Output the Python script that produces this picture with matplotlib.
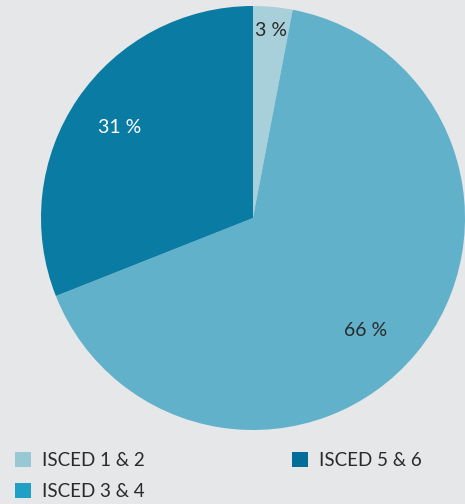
import numpy as np
from matplotlib import pyplot as plt
from matplotlib.patches import Patch

labels = ['ISCED 1 & 2', 'ISCED 3 & 4', 'ISCED 5 & 6']
shares = [3, 66, 31]
slice_colors = ['#a7d0da', '#62b1cb', '#0a7ba2']
legend_colors = ['#97c8d3', '#1fa0c4', '#006e98']
label_dist = [0.89, 0.75, 0.76]
label_shift = [0, -5.5, 0]  # degrees, nudges the 66 % label

BG = '#e6e7e9'
FONT = ['Lato', 'DejaVu Sans']


def main():
    fig = plt.figure(figsize=(4.65, 5.04), dpi=100, facecolor=BG)
    W, H = 465, 504
    cx, cy, r = 253, 218, 212
    ax = fig.add_axes([(cx - r) / W, (H - cy - r) / H, 2 * r / W, 2 * r / H])
    ax.set_facecolor(BG)

    wedges, _ = ax.pie(shares, colors=slice_colors, startangle=90, counterclock=False,
                       radius=1, wedgeprops=dict(linewidth=0))
    ax.set_xlim(-1, 1)
    ax.set_ylim(-1, 1)
    ax.set_aspect('equal')
    ax.axis('off')

    txt_colors = ['#2a2a2a', '#2a2a2a', 'white']
    for w, v, d, s, c in zip(wedges, shares, label_dist, label_shift, txt_colors):
        ang = np.deg2rad((w.theta1 + w.theta2) / 2 + s)
        ax.text(d * np.cos(ang), d * np.sin(ang), f'{v} %', ha='center', va='center',
                fontsize=14, color=c, family=FONT)

    handles = [Patch(facecolor=c, edgecolor='none') for c in legend_colors]
    fig.legend(handles, labels, ncol=2, loc='upper left', bbox_to_anchor=(0.0, 0.133),
               frameon=False, prop=dict(family=FONT, size=13.5), labelcolor='#2a2a2a',
               handlelength=0.85, handleheight=0.85, handletextpad=0.6,
               columnspacing=7.85, labelspacing=0.75, borderpad=0.3)

    fig.savefig('out.png', dpi=100, facecolor=BG)


if __name__ == '__main__':
    main()
